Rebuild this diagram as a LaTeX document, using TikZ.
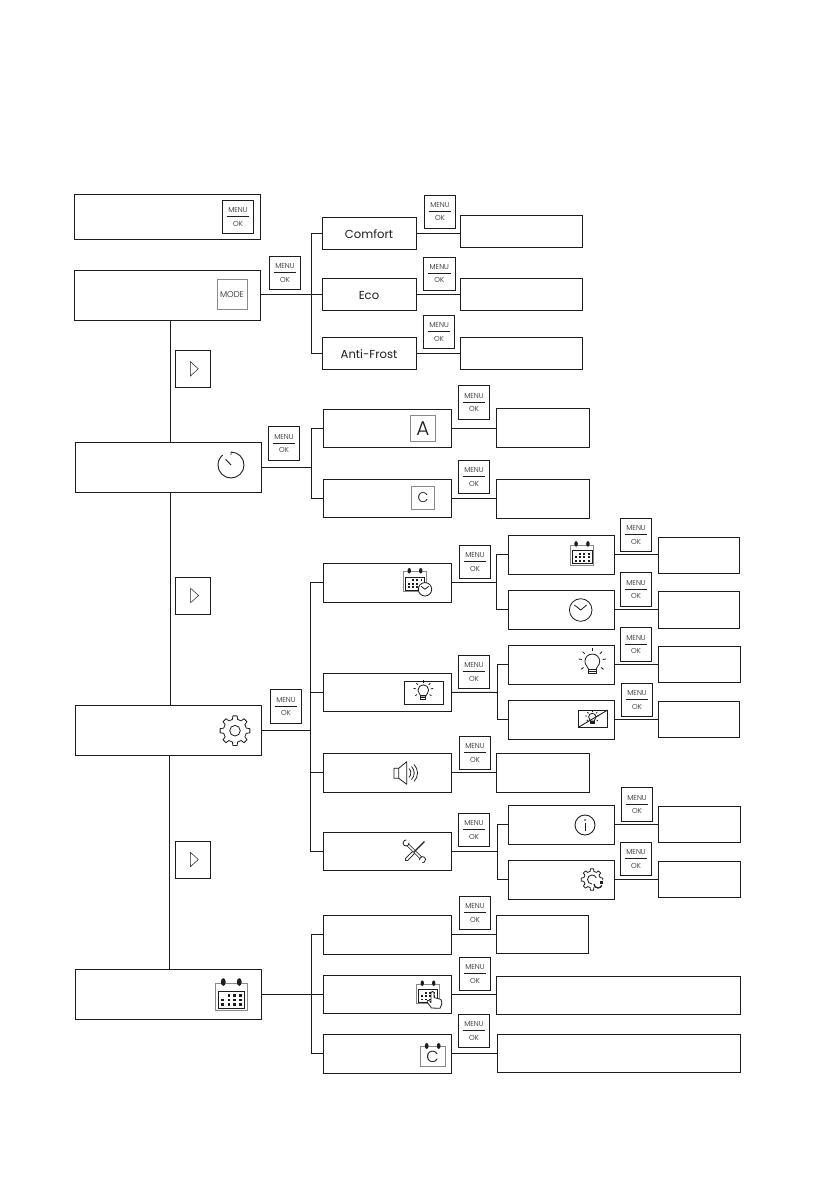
\documentclass[tikz,border=0pt]{standalone}
\usepackage{fontspec}
\setmainfont{Poppins Light}
\newfontfamily\optionfont{Poppins}
\usepackage{xcolor}
\usetikzlibrary{positioning, calc}

\definecolor{inkline}{HTML}{1D1D1B}
\definecolor{icongray}{HTML}{8A8A88}

\newcommand{\menuok}{MENU\\[-2.4pt]\rule[1.6pt]{22.6pt}{0.8pt}\\[-0.8pt]OK}

\tikzset{
    blockbase/.style={rectangle, draw=inkline, line width=1pt, inner sep=0pt, fill=white, text=inkline},
    mainbox/.style={blockbase, minimum width=186pt, minimum height=50pt},
    optionbox/.style={blockbase, minimum width=94pt, minimum height=32pt, text height=10pt, text depth=0pt, font=\optionfont\fontsize{11.6}{14}\selectfont},
    resultbox/.style={blockbase, minimum width=122pt, minimum height=32pt},
    selectbox/.style={blockbase, minimum width=128pt, minimum height=38.5pt},
    shortbox/.style={blockbase, minimum width=93pt, minimum height=39pt},
    subbox/.style={blockbase, minimum width=106.4pt, minimum height=39pt},
    leafbox/.style={blockbase, minimum width=81.4pt, minimum height=36.5pt},
    longbox/.style={blockbase, minimum width=243.5pt, minimum height=38.4pt},
    menukey/.style={blockbase, minimum width=31.4pt, minimum height=33.4pt, align=center, font=\fontsize{7.2}{8.4}\selectfont},
    arrowkey/.style={blockbase, minimum width=35pt, minimum height=37pt},
    grayicon/.style={rectangle, draw=icongray, line width=0.9pt, inner sep=0pt, text=inkline},
    wire/.style={draw=inkline, line width=1pt},
    iconline/.style={draw=inkline, line width=0.8pt, line join=round},
    calendaricon/.pic={
        \draw[icongray, line width=0.8pt, fill=white] (-16,-13.5) rectangle (16,13.5);
        \draw[inkline, line width=0.6pt] (-13.3,-6) rectangle (13.3,11.7);
        \fill[inkline] (-8,-15) ellipse (2.4 and 3.8) (8,-15) ellipse (2.4 and 3.8);
        \foreach \dotx in {-2.3,3.3,9} \fill[inkline] (\dotx-1.3,-3) rectangle ++(2.6,2.6);
        \foreach \dotx in {-8.7,-2.3,3.3,9} {
            \fill[inkline] (\dotx-1.3,1.7) rectangle ++(2.6,2.6);
            \fill[inkline] (\dotx-1.3,6.4) rectangle ++(2.6,2.6);
        }
    },
    geartooth/.pic={
        \draw[iconline, fill=white] \foreach \ang in {0,45,...,315} {
            (\ang-13:11.6) -- (\ang-8:15) -- (\ang+8:15) -- (\ang+13:11.6) -- (\ang+32:11.6)
        };
    },
    bulbicon/.pic={
        \draw[iconline] (-3.6,5.4) .. controls (-4,2.6) and (-7.4,1.6) .. (-7.4,-2.6)
            arc[start angle=180, end angle=360, radius=7.4]
            .. controls (7.4,1.6) and (4,2.6) .. (3.6,5.4) -- cycle;
        \draw[iconline] (-3.6,5.4) rectangle (3.6,9.6) (-3.6,7.5) -- (3.6,7.5);
        \foreach \ang in {-170,-135,-90,-45,-10,35,145}
            \draw[iconline] (\ang:10.6) ++(0,-2.6) -- ++($(\ang:3.2)$);
    },
    wrenchjaw/.pic={
        \draw[iconline, fill=white] (0,0) ++(-50:3) arc[start angle=-50, end angle=230, radius=3];
    },
    playmark/.pic={
        \draw[inkline, line width=0.5pt, fill=white] (-2.5,-7.3) -- (5.5,0) -- (-2.5,7.3) -- cycle;
    },
}

\begin{document}
\begin{tikzpicture}[x=1pt, y=-1pt]
    \useasboundingbox (0,0) rectangle (839,1191);

    % Left column
    \node[mainbox, minimum height=45pt] (menubox) at (167.5,216.8) {};
    \node[mainbox] (modebox) at (167.5,295.3) {};
    \node[mainbox] (timerbox) at (168,467.3) {};
    \node[mainbox] (setupbox) at (168,730.3) {};
    \node[mainbox] (calbox) at (168,994.5) {};

    % Mode branch
    \node[optionbox] (comfort) at (369,233.3) {Comfort};
    \node[optionbox] (eco) at (369,294.3) {Eco};
    \node[optionbox] (antifrost) at (369,353.3) {Anti-Frost};
    \node[resultbox] (comfortval) at (521,231) {};
    \node[resultbox] (ecoval) at (521,294) {};
    \node[resultbox] (frostval) at (521,353) {};

    % Timer branch
    \node[selectbox] (timera) at (387,428.3) {};
    \node[selectbox] (timerc) at (387,498.6) {};
    \node[shortbox] (timeraval) at (542.5,427.5) {};
    \node[shortbox] (timercval) at (542.5,498.5) {};

    % Setup branch
    \node[selectbox] (schedset) at (387,582.8) {};
    \node[selectbox] (lightset) at (387,692.3) {};
    \node[selectbox] (soundset) at (387,772.8) {};
    \node[selectbox] (toolset) at (387,851.3) {};
    \node[shortbox] (soundval) at (542.5,772.8) {};
    \node[subbox] (dateset) at (561.5,554.8) {};
    \node[subbox] (clockset) at (561.5,609.8) {};
    \node[subbox] (lighton) at (561.5,664.8) {};
    \node[subbox] (lightoff) at (561.5,719.8) {};
    \node[subbox] (infoset) at (561.5,824.8) {};
    \node[subbox] (resetset) at (561.5,879.8) {};
    \node[leafbox] (dateval) at (699,555.3) {};
    \node[leafbox] (clockval) at (699,609.8) {};
    \node[leafbox] (onval) at (699.5,664.3) {};
    \node[leafbox] (offval) at (699,719.3) {};
    \node[leafbox] (infoval) at (699.5,824.3) {};
    \node[leafbox] (resetval) at (699.5,879.3) {};

    % Calendar branch
    \node[selectbox] (planone) at (387,934.8) {};
    \node[selectbox] (plantwo) at (387,994.3) {};
    \node[selectbox] (planthree) at (387,1053.8) {};
    \node[shortbox, minimum width=92.4pt, minimum height=38pt] (planoneval) at (542.5,934.3) {};
    \node[longbox] (plantwoval) at (618.5,995.5) {};
    \node[longbox] (planthreeval) at (618.8,1053.3) {};

    % Spines and branches
    \coordinate (upperspine) at (170.3,0);
    \coordinate (lowerspine) at (169.3,0);
    \coordinate (modetrunk) at (311.3,294.3);
    \coordinate (timertrunk) at (311.3,467.3);
    \coordinate (setuptrunk) at (310.6,730.3);
    \coordinate (caltrunk) at (311.3,994.3);
    \coordinate (schedtrunk) at (496.8,582.3);
    \coordinate (lighttrunk) at (497.3,692.5);
    \coordinate (tooltrunk) at (497.3,851.3);

    \draw[wire] (modebox.south -| upperspine) -- (timerbox.north -| upperspine);
    \draw[wire] (timerbox.south -| upperspine) -- (setupbox.north -| upperspine);
    \draw[wire] (setupbox.south -| lowerspine) -- (calbox.north -| lowerspine);

    \draw[wire] (modebox.east |- eco) -- (eco.west);
    \draw[wire] (comfort.west) -| (modetrunk) |- (antifrost.west);
    \draw[wire] (comfort.east) -- (comfort.east -| comfortval.west);
    \draw[wire] (eco.east) -- (eco.east -| ecoval.west);
    \draw[wire] (antifrost.east) -- (antifrost.east -| frostval.west);

    \draw[wire] (timerbox.east) -- (timertrunk);
    \draw[wire] (timera.west) -| (timertrunk) |- (timerc.west);
    \draw[wire] (timera.east) -- (timera.east -| timeraval.west);
    \draw[wire] (timerc.east) -- (timerc.east -| timercval.west);

    \draw[wire] (setupbox.east) -- (setuptrunk);
    \draw[wire] (schedset.west) -| (setuptrunk) |- (toolset.west);
    \draw[wire] (lightset.west) -| (setuptrunk);
    \draw[wire] (soundset.west) -| (setuptrunk);
    \draw[wire] (soundset.east) -- (soundset.east -| soundval.west);

    \draw[wire] (schedset.east |- schedtrunk) -- (schedtrunk);
    \draw[wire] (dateset.west) -| (schedtrunk) |- (clockset.west);
    \draw[wire] (lightset.east) -- (lighttrunk);
    \draw[wire] (lighton.west) -| (lighttrunk) |- (lightoff.west);
    \draw[wire] (toolset.east) -- (tooltrunk);
    \draw[wire] (infoset.west) -| (tooltrunk) |- (resetset.west);

    \draw[wire] (dateset.east) -- (dateset.east -| dateval.west);
    \draw[wire] (clockset.east) -- (clockset.east -| clockval.west);
    \draw[wire] (lighton.east) -- (lighton.east -| onval.west);
    \draw[wire] (lightoff.east) -- (lightoff.east -| offval.west);
    \draw[wire] (infoset.east) -- (infoset.east -| infoval.west);
    \draw[wire] (resetset.east) -- (resetset.east -| resetval.west);

    \draw[wire] (calbox.east |- plantwo) -- (plantwo.west);
    \draw[wire] (planone.west) -| (caltrunk) |- (planthree.west);
    \draw[wire] (planone.east) -- (planone.east -| planoneval.west);
    \draw[wire] (plantwo.east) -- (plantwo.east -| plantwoval.west);
    \draw[wire] (planthree.east) -- (planthree.east -| planthreeval.west);

    % Keys
    \node[menukey, minimum height=33pt] (keymenu) at (238,216.8) {\menuok};
    \node[menukey] (keymode) at (285,272.8) {\menuok};
    \node[menukey] (keycomfort) at (440,211.7) {\menuok};
    \node[menukey] (keyeco) at (439.3,273.7) {\menuok};
    \node[menukey] (keyfrost) at (439.1,331.8) {\menuok};
    \node[menukey] (keytimer) at (284,443.3) {\menuok};
    \node[menukey] (keya) at (474,402.5) {\menuok};
    \node[menukey] (keyc) at (474,477) {\menuok};
    \node[menukey] (keysetup) at (286,706.6) {\menuok};
    \node[menukey] (keysched) at (475,562) {\menuok};
    \node[menukey] (keylight) at (474,672) {\menuok};
    \node[menukey] (keysound) at (475,752.7) {\menuok};
    \node[menukey] (keytools) at (474,830) {\menuok};
    \node[menukey] (keydate) at (636,534.8) {\menuok};
    \node[menukey] (keyclock) at (636,589.3) {\menuok};
    \node[menukey] (keyon) at (636,644.5) {\menuok};
    \node[menukey] (keyoff) at (637,700) {\menuok};
    \node[menukey] (keyinfo) at (637,804.5) {\menuok};
    \node[menukey] (keyreset) at (636,858.8) {\menuok};
    \node[menukey] (keyplanone) at (475,913) {\menuok};
    \node[menukey] (keyplantwo) at (475,974) {\menuok};
    \node[menukey] (keyplanthree) at (474,1031) {\menuok};

    \node[arrowkey] (nextone) at (192.8,368.8) {};
    \node[arrowkey] (nexttwo) at (193,595.5) {};
    \node[arrowkey] (nextthree) at (192.8,859.5) {};
    \pic at (nextone) {playmark};
    \pic at (nexttwo) {playmark};
    \pic at (nextthree) {playmark};

    % Icons
    \node[grayicon, minimum width=30pt, minimum height=30.4pt, font=\fontsize{8.4}{9}\selectfont] (modeicon) at (232,294.5) {MODE};
    \node[grayicon, minimum width=25.4pt, minimum height=25.4pt, font=\fontsize{20}{22}\selectfont] (aicon) at (423,428.3) {A};
    \node[grayicon, minimum width=22.6pt, minimum height=23.4pt, font=\fontsize{14}{16}\selectfont] (cicon) at (423,498) {C};

    \draw[iconline, line width=0.9pt] (231,452) -- (231,455) (231,452) arc[start angle=-90, end angle=230, radius=13];
    \draw[iconline, line width=0.9pt] (231,465) -- (225.7,459.3);

    \pic at (235,730.7) {geartooth};
    \draw[iconline] (235,730.7) circle (5.3);

    \pic at (231.3,997) {calendaricon};

    \pic[scale=0.72] at (415,581.5) {calendaricon};
    \draw[iconline, fill=white] (425,589.3) circle (6.7);
    \draw[iconline] (421.2,586.3) -- (425,589.3) -- (428.6,586.3);

    \pic[scale=0.74] at (582,555) {calendaricon};

    \draw[iconline] (580.7,610) circle (11.3);
    \draw[iconline] (574.4,605) -- (580.7,610) -- (586.7,605);

    \pic at (592.3,664) {bulbicon};

    \draw[inkline, line width=0.8pt] (404,681) rectangle (443.7,704);
    \pic[scale=0.72] at (423.3,692) {bulbicon};

    \pic[scale=0.5] at (592.3,718.3) {bulbicon};
    \draw[inkline, line width=0.8pt] (578.3,710) rectangle (607.7,727.3);
    \draw[inkline, line width=0.9pt] (578.3,727.3) -- (607.7,710);

    \draw[iconline] (394,768.3) rectangle (398.7,778.3) (398.7,768.3) -- (406.7,761.7) -- (406.7,784.3) -- (398.7,778.3);
    \draw[iconline] (409,768.5) arc[start angle=-45, end angle=45, radius=6.3];
    \draw[iconline] (411.5,766.5) arc[start angle=-45, end angle=45, radius=9.2];
    \draw[iconline] (414,764.5) arc[start angle=-45, end angle=45, radius=12];

    \draw[inkline, line width=3pt] (406.5,843.5) -- (422,859);
    \draw[white, line width=1.5pt] (406.5,843.5) -- (422,859);
    \pic[rotate=-45] at (406,843) {wrenchjaw};
    \pic[rotate=135] at (422.6,859.6) {wrenchjaw};
    \draw[inkline, line width=1.2pt] (424.5,841.5) -- (414,852);
    \draw[inkline, line width=3.6pt, line cap=round] (413,853) -- (406.5,859.5);
    \draw[white, line width=2pt, line cap=round] (413,853) -- (406.5,859.5);

    \draw[iconline, line width=0.9pt] (585,825) circle (10);
    \draw[inkline, line width=1pt] (585,823) -- (585,830.5);
    \fill[inkline] (585,820) circle (0.8);

    \pic[scale=0.72] at (592,879.5) {geartooth};
    \fill[white] (600,885.5) circle (6);
    \draw[iconline] (592,884) arc[start angle=90, end angle=340, radius=4.5];
    \draw[inkline, line width=1.3pt] (594,884) arc[start angle=180, end angle=20, radius=4];
    \fill[inkline] (600.4,881.4) rectangle ++(3,3);

    \pic[scale=0.72] at (428,994) {calendaricon};
    \draw[iconline, fill=white] (431.5,1008) .. controls (429,1004) and (426,1002) .. (427.5,1000.5) .. controls (429,1000) and (430,1001) .. (431,1002.5) -- (431,992.5) .. controls (431.5,991) and (433.5,991) .. (434,992.5) -- (434,997.5) -- (441,999.5) .. controls (442.5,1003) and (441.5,1006) .. (440,1008.3) -- cycle;

    \draw[icongray, line width=0.8pt] (420,1046) rectangle (445.7,1066);
    \fill[inkline] (426.7,1046) ellipse (1.9 and 3) (438.7,1046) ellipse (1.9 and 3);
    \node[inner sep=0pt, text=inkline, font=\fontsize{16}{18}\selectfont] (caliconc) at (432.6,1056.4) {C};
\end{tikzpicture}
\end{document}
